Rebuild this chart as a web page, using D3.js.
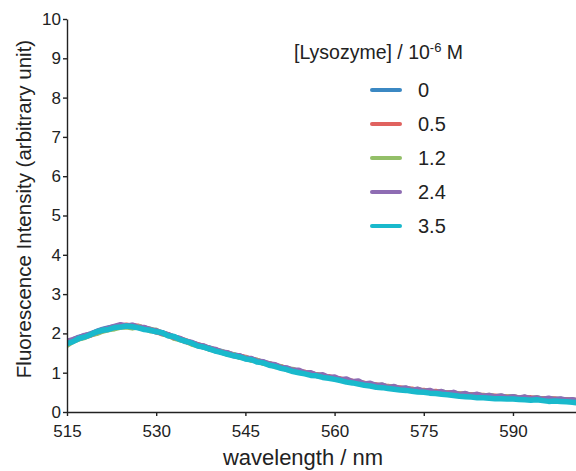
<!DOCTYPE html>
<html>
<head>
<meta charset="utf-8">
<script src="https://cdn.jsdelivr.net/npm/d3@7"></script>
<style>
  body { margin: 0; background: #fff; }
  text { font-family: "Liberation Sans", Arial, sans-serif; fill: #222; }
</style>
</head>
<body>
<svg id="chart" width="576" height="471"></svg>
<script>
const chartW = 576, chartH = 471;

// wavelengths 515..601 nm, 1 nm step
const wavelengths = d3.range(515, 602);
const concLabels = ["0", "0.5", "1.2", "2.4", "3.5"];
const colors = ["#3b88c3", "#e0625f", "#93bf68", "#8e6cb3", "#19b9cc"];
const xTicks = [515, 530, 545, 560, 575, 590];
const yTicks = d3.range(0, 11);

const s0 = [1.78,1.83,1.90,1.94,1.99,2.05,2.10,2.14,2.17,2.19,
  2.18,2.20,2.16,2.14,2.10,2.05,2.02,1.95,1.91,1.86,
  1.79,1.76,1.71,1.65,1.63,1.56,1.54,1.48,1.46,1.42,
  1.37,1.35,1.29,1.27,1.21,1.19,1.13,1.11,1.05,1.04,
  0.99,0.98,0.93,0.92,0.88,0.87,0.82,0.81,0.76,0.76,
  0.71,0.71,0.67,0.67,0.63,0.63,0.59,0.60,0.56,0.56,
  0.53,0.53,0.50,0.50,0.47,0.48,0.44,0.45,0.42,0.43,
  0.40,0.41,0.39,0.39,0.37,0.38,0.35,0.37,0.34,0.35,
  0.33,0.34,0.32,0.32,0.30,0.30,0.28];
const s1 = [1.75,1.81,1.87,1.92,1.96,2.02,2.07,2.11,2.16,2.17,
  2.21,2.18,2.18,2.12,2.10,2.04,2.00,1.97,1.89,1.86,
  1.81,1.74,1.71,1.67,1.61,1.58,1.52,1.50,1.44,1.42,
  1.39,1.33,1.31,1.25,1.23,1.17,1.15,1.09,1.07,1.02,
  1.01,0.96,0.95,0.90,0.90,0.85,0.84,0.79,0.78,0.74,
  0.73,0.69,0.69,0.65,0.65,0.61,0.61,0.58,0.58,0.54,
  0.55,0.51,0.52,0.49,0.49,0.48,0.46,0.44,0.44,0.42,
  0.42,0.40,0.40,0.38,0.38,0.37,0.36,0.35,0.36,0.33,
  0.34,0.32,0.33,0.30,0.31,0.29,0.29];
const s2 = [1.70,1.80,1.86,1.90,1.97,2.00,2.06,2.10,2.12,2.16,
  2.17,2.14,2.17,2.13,2.07,2.08,1.99,1.96,1.88,1.84,
  1.80,1.73,1.69,1.66,1.60,1.57,1.53,1.47,1.46,1.39,
  1.38,1.32,1.31,1.24,1.23,1.16,1.15,1.08,1.08,1.01,
  1.00,0.97,0.94,0.92,0.88,0.87,0.81,0.81,0.76,0.75,
  0.72,0.71,0.67,0.68,0.63,0.64,0.59,0.60,0.55,0.57,
  0.52,0.53,0.49,0.51,0.47,0.48,0.45,0.45,0.42,0.44,
  0.40,0.42,0.38,0.40,0.37,0.39,0.35,0.37,0.33,0.36,
  0.32,0.34,0.31,0.32,0.29,0.30,0.27];
const s3 = [1.80,1.84,1.89,1.95,1.98,2.04,2.09,2.13,2.18,2.22,
  2.19,2.21,2.15,2.15,2.08,2.07,2.00,1.97,1.90,1.87,
  1.80,1.77,1.70,1.68,1.61,1.59,1.52,1.51,1.44,1.43,
  1.36,1.36,1.29,1.28,1.22,1.20,1.13,1.12,1.06,1.06,
  0.99,1.00,0.93,0.95,0.88,0.89,0.82,0.84,0.77,0.79,
  0.71,0.73,0.67,0.69,0.62,0.65,0.59,0.61,0.55,0.58,
  0.52,0.55,0.49,0.52,0.47,0.50,0.44,0.47,0.42,0.45,
  0.40,0.42,0.38,0.41,0.36,0.39,0.35,0.38,0.34,0.36,
  0.32,0.35,0.31,0.33,0.30,0.31,0.28];
const s4 = [1.74,1.79,1.87,1.91,1.97,2.04,2.08,2.10,2.15,2.16,
  2.19,2.17,2.14,2.10,2.08,2.04,2.02,1.94,1.92,1.84,
  1.80,1.75,1.68,1.65,1.60,1.55,1.51,1.47,1.43,1.40,
  1.35,1.33,1.27,1.25,1.19,1.16,1.11,1.08,1.03,1.00,
  0.97,0.93,0.92,0.88,0.86,0.83,0.80,0.76,0.74,0.71,
  0.68,0.66,0.63,0.62,0.60,0.58,0.56,0.55,0.53,0.51,
  0.50,0.48,0.47,0.45,0.44,0.42,0.40,0.39,0.38,0.36,
  0.36,0.35,0.34,0.34,0.33,0.33,0.32,0.31,0.30,0.31,
  0.29,0.27,0.28,0.27,0.26,0.25,0.23];
const seriesList = [s0, s1, s2, s3, s4];

const svg = d3.select("#chart");

const x = d3.scaleLinear().domain([515, 600.6]).range([67, 576]);
const y = d3.scaleLinear().domain([0, 10]).range([412, 19]);

// clip so lines stop at the plot edge
svg.append("clipPath").attr("id", "plotClip")
  .append("rect").attr("x", 67).attr("y", 0).attr("width", 509).attr("height", 412);

const line = d3.line()
  .x((d, i) => x(wavelengths[i]))
  .y(d => y(d));

svg.append("g").attr("clip-path", "url(#plotClip)")
  .selectAll("path")
  .data(seriesList)
  .join("path")
  .attr("d", line)
  .attr("fill", "none")
  .attr("stroke", (d, i) => colors[i])
  .attr("stroke-width", 5.5)
  .attr("stroke-linejoin", "round")
  .attr("stroke-linecap", "round");

// axes
const xAxis = svg.append("g")
  .attr("transform", "translate(0,412)")
  .call(d3.axisBottom(x).tickValues(xTicks).tickSize(4).tickPadding(9).tickSizeOuter(0));
xAxis.selectAll("text").style("font-size", "17px").attr("fill", "#222");

const yAxis = svg.append("g")
  .attr("transform", "translate(67,0)")
  .call(d3.axisLeft(y).tickValues(yTicks).tickSize(4).tickPadding(2).tickSizeOuter(0));
yAxis.selectAll("text").style("font-size", "17px").attr("fill", "#222");

svg.selectAll(".domain, .tick line").attr("stroke", "#222").attr("stroke-width", 1.4);

// axis titles
svg.append("text")
  .attr("x", 303).attr("y", 465)
  .attr("text-anchor", "middle")
  .style("font-size", "22px")
  .text("wavelength / nm");

svg.append("text")
  .attr("transform", "translate(31,209) rotate(-90)")
  .attr("text-anchor", "middle")
  .style("font-size", "20.5px")
  .text("Fluorescence Intensity (arbitrary unit)");

// legend
const legTitle = svg.append("text")
  .attr("x", 294).attr("y", 59)
  .style("font-size", "19.5px");
legTitle.append("tspan").text("[Lysozyme] / 10");
legTitle.append("tspan").attr("dy", -7).style("font-size", "13px").text("-6");
legTitle.append("tspan").attr("dy", 7).text(" M");

const leg = svg.append("g").selectAll("g")
  .data(concLabels)
  .join("g")
  .attr("transform", (d, i) => `translate(0,${90 + i * 34})`);

leg.append("line")
  .attr("x1", 372).attr("x2", 400)
  .attr("stroke", (d, i) => colors[i])
  .attr("stroke-width", 4)
  .attr("stroke-linecap", "round");

leg.append("text")
  .attr("x", 418).attr("y", 7)
  .style("font-size", "20px")
  .text(d => d);
</script>
</body>
</html>
